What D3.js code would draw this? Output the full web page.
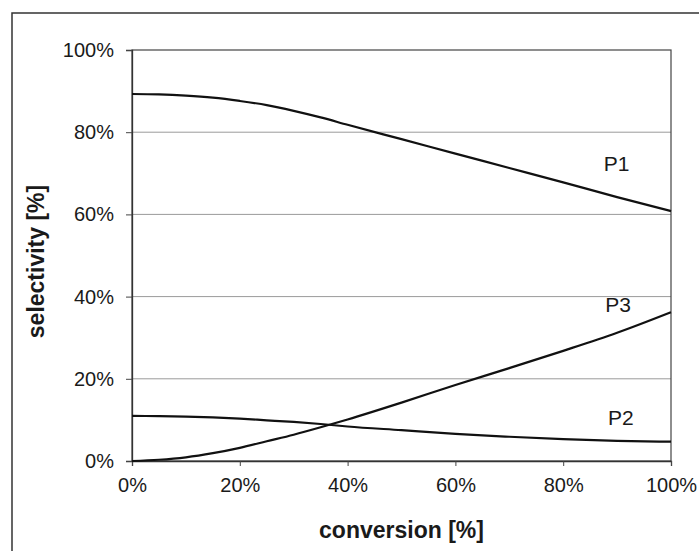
<!DOCTYPE html>
<html>
<head>
<meta charset="utf-8">
<script src="https://cdn.jsdelivr.net/npm/d3@7"></script>
<style>
  html, body { margin: 0; padding: 0; background: #fff; }
  svg { display: block; font-family: "Liberation Sans", Arial, sans-serif; }
</style>
</head>
<body>
<svg id="chart" width="699" height="551"></svg>
<script>
// ---- data ----
const conversion = [0, 5, 10, 15, 20, 25, 30, 35, 40, 50, 60, 70, 80, 90, 100];
const P1 = [89.3, 89.2, 88.9, 88.4, 87.6, 86.6, 85.2, 83.6, 81.8, 78.3, 74.8, 71.3, 67.8, 64.2, 60.8];
const P2 = [11.0, 10.9, 10.8, 10.6, 10.3, 9.9, 9.5, 9.0, 8.4, 7.5, 6.6, 5.9, 5.3, 4.9, 4.7];
const P3 = [0.0, 0.3, 0.9, 1.9, 3.2, 4.8, 6.4, 8.2, 10.1, 14.2, 18.5, 22.6, 26.8, 31.2, 36.2];
const seriesNames = ["P1", "P2", "P3"];
const xTicks = [0, 20, 40, 60, 80, 100];
const yTicks = [0, 20, 40, 60, 80, 100];
const xTitle = "conversion [%]";
const yTitle = "selectivity [%]";

// ---- layout ----
const svg = d3.select("#chart");
const plot = { left: 132, right: 671, top: 50, bottom: 461 };

const x = d3.scaleLinear().domain([0, 100]).range([plot.left, plot.right]);
const y = d3.scaleLinear().domain([0, 100]).range([plot.bottom, plot.top]);

// outer border
svg.append("rect")
  .attr("x", 12).attr("y", 13)
  .attr("width", 720).attr("height", 600)
  .attr("fill", "none").attr("stroke", "#333").attr("stroke-width", 1.5);

// gridlines
svg.append("g")
  .selectAll("line")
  .data(yTicks.filter(d => d > 0 && d < 100))
  .join("line")
  .attr("x1", plot.left).attr("x2", plot.right)
  .attr("y1", d => y(d)).attr("y2", d => y(d))
  .attr("stroke", "#9a9a9a").attr("stroke-width", 1);

// plot frame (top/right)
svg.append("rect")
  .attr("x", plot.left).attr("y", plot.top)
  .attr("width", plot.right - plot.left).attr("height", plot.bottom - plot.top)
  .attr("fill", "none").attr("stroke", "#444").attr("stroke-width", 1.2);

const fmt = d => d + "%";

// y axis
const yAxis = svg.append("g")
  .attr("transform", `translate(${plot.left},0)`)
  .call(d3.axisLeft(y).tickValues(yTicks).tickFormat(fmt).tickSize(6).tickPadding(12));
// x axis
const xAxis = svg.append("g")
  .attr("transform", `translate(0,${plot.bottom})`)
  .call(d3.axisBottom(x).tickValues(xTicks).tickFormat(fmt).tickSize(5).tickPadding(12));

[yAxis, xAxis].forEach(g => {
  g.select(".domain").attr("stroke", "#333").attr("stroke-width", 1.3);
  g.selectAll(".tick line").attr("stroke", "#444");
  g.selectAll(".tick text")
    .attr("fill", "#1a1a1a")
    .style("font-size", "20px")
    .style("font-family", "'Liberation Sans', Arial, sans-serif");
});

// lines
const line = d3.line()
  .x((d, i) => x(conversion[i]))
  .y(d => y(d))
  .curve(d3.curveMonotoneX);

const seriesData = [P1, P2, P3];
svg.append("g")
  .selectAll("path")
  .data(seriesData)
  .join("path")
  .attr("d", d => line(d))
  .attr("fill", "none")
  .attr("stroke", "#111")
  .attr("stroke-width", 2.2);

// series labels
const labelPos = [
  { name: seriesNames[0], xv: 87.5, yv: 70.5 },
  { name: seriesNames[1], xv: 88.3, yv: 8.7 },
  { name: seriesNames[2], xv: 87.8, yv: 36.3 }
];
svg.append("g")
  .selectAll("text")
  .data(labelPos)
  .join("text")
  .attr("x", d => x(d.xv))
  .attr("y", d => y(d.yv))
  .attr("fill", "#1a1a1a")
  .style("font-size", "21px")
  .text(d => d.name);

// axis titles
svg.append("text")
  .attr("x", (plot.left + plot.right) / 2)
  .attr("y", 538)
  .attr("text-anchor", "middle")
  .attr("fill", "#1a1a1a")
  .style("font-size", "23px")
  .style("font-weight", "bold")
  .text(xTitle);

svg.append("text")
  .attr("transform", `translate(44,${(plot.top + plot.bottom) / 2 + 6}) rotate(-90)`)
  .attr("text-anchor", "middle")
  .attr("fill", "#1a1a1a")
  .style("font-size", "23px")
  .style("font-weight", "bold")
  .text(yTitle);
</script>
</body>
</html>
